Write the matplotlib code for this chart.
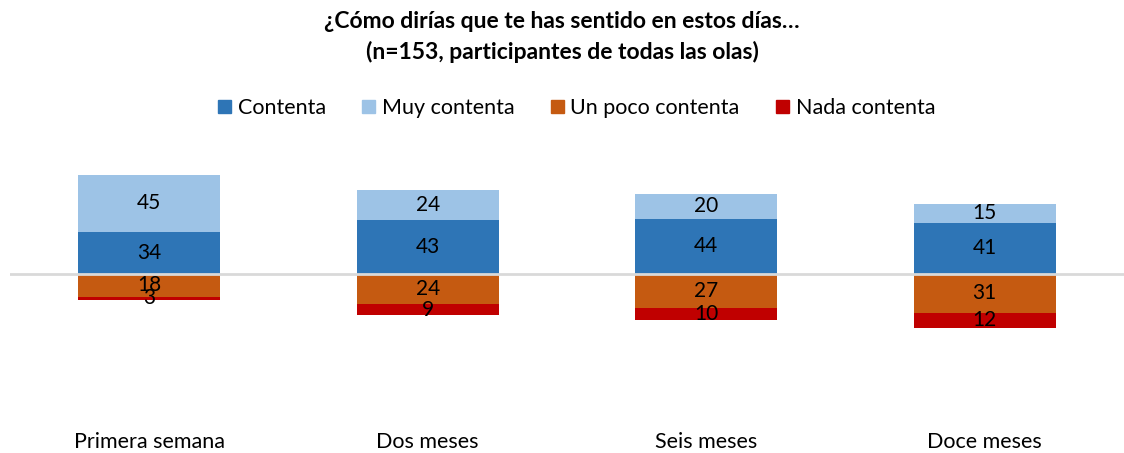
import numpy as np
import matplotlib.pyplot as plt
from matplotlib.patches import Patch

plt.rcParams['font.family'] = ['Lato', 'DejaVu Sans']

categories = ['Primera semana', 'Dos meses', 'Seis meses', 'Doce meses']
contenta = [34, 43, 44, 41]
muy_contenta = [45, 24, 20, 15]
un_poco = [18, 24, 27, 31]
nada = [3, 9, 10, 12]

colors = {'Contenta': '#2E75B6', 'Muy contenta': '#9DC3E6',
          'Un poco contenta': '#C55A11', 'Nada contenta': '#C00000'}

fig = plt.figure(figsize=(11.24, 4.53), dpi=100)
ax = fig.add_axes([10 / 1124, 1 - 424 / 453, 1114 / 1124, 275 / 453])

x = np.arange(len(categories))
w = 0.51
c = np.array(contenta)
m = np.array(muy_contenta)
u = -np.array(un_poco)
n = -np.array(nada)

ax.bar(x, c, w, color=colors['Contenta'], zorder=2)
ax.bar(x, m, w, bottom=c, color=colors['Muy contenta'], zorder=2)
ax.bar(x, u, w, color=colors['Un poco contenta'], zorder=2)
ax.bar(x, n, w, bottom=u, color=colors['Nada contenta'], zorder=2)
ax.axhline(0, color='#d9d9d9', lw=2, zorder=3)

fs = 15
for i in range(len(categories)):
    ax.text(x[i], c[i] / 2, str(contenta[i]), ha='center', va='center', fontsize=fs, zorder=4)
    ax.text(x[i], c[i] + m[i] / 2, str(muy_contenta[i]), ha='center', va='center', fontsize=fs, zorder=4)
    ax.text(x[i], u[i] / 2, str(un_poco[i]), ha='center', va='center', fontsize=fs, zorder=4)
    ax.text(x[i], u[i] + n[i] / 2, str(nada[i]), ha='center', va='center', fontsize=fs, zorder=4)

ax.set_xlim(-0.5, 3.5)
ax.set_ylim(-120, 100)
ax.set_yticks([])
ax.set_xticks(x)
ax.set_xticklabels(categories, fontsize=15.5)
ax.tick_params(axis='x', length=0, pad=6)
for s in ax.spines.values():
    s.set_visible(False)

fig.text(0.5, 1 - 22 / 453, '¿Cómo dirías que te has sentido en estos días…',
         ha='center', va='center', fontsize=16.5, fontweight='bold')
fig.text(0.5, 1 - 52 / 453, '(n=153, participantes de todas las olas)',
         ha='center', va='center', fontsize=16.5, fontweight='bold')

handles = [Patch(color=v, label=k) for k, v in colors.items()]
fig.legend(handles=handles, loc='center', bbox_to_anchor=(0.513, 1 - 108 / 453), ncol=4,
           frameon=False, fontsize=15.5, handlelength=0.6, handleheight=0.6,
           handletextpad=0.3, columnspacing=1.7)

fig.savefig('out.png', dpi=100)
